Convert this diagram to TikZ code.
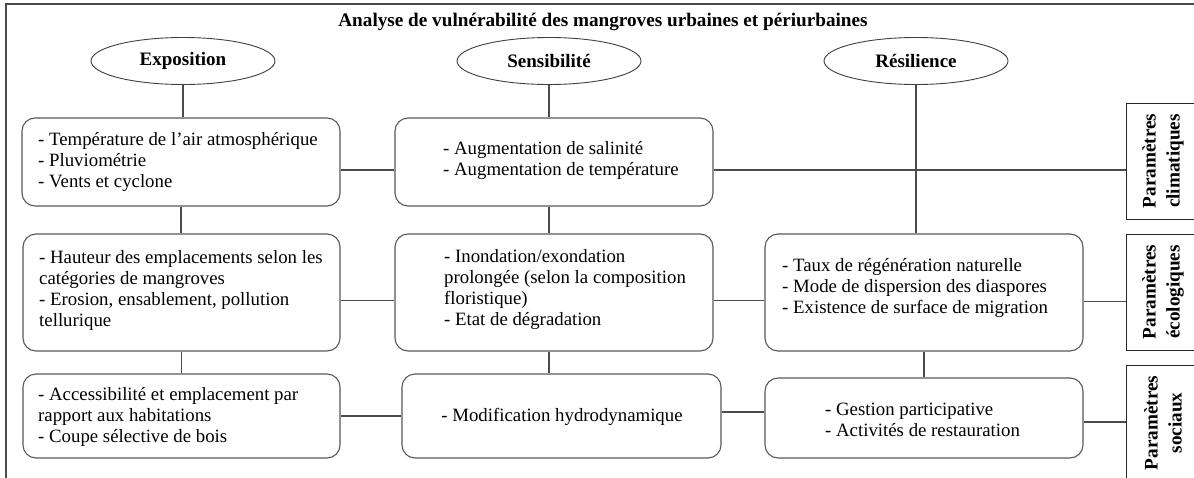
\documentclass[tikz,border=0pt]{standalone}
\usepackage{fontspec}
\setmainfont{Liberation Serif}
\usetikzlibrary{shapes.geometric}
\begin{document}
\begin{tikzpicture}[x=1pt,y=-1pt,
  frame/.style={draw=black!70, line width=1.3pt},
  rbox/.style={draw=black!65, line width=1.1pt, rounded corners=13pt, rectangle, inner sep=0pt, fill=white},
  txt/.style={align=left, inner sep=0pt, font=\fontsize{18.8}{21}\selectfont, anchor=west},
  ell/.style={ellipse, draw=black!75, line width=0.9pt, minimum width=184pt, minimum height=47pt, inner sep=0pt, font=\bfseries\fontsize{19}{22}\selectfont},
  pbox/.style={draw=black!85, line width=1pt, rectangle, inner sep=0pt, minimum width=74pt, minimum height=116pt},
  ptxt/.style={rotate=90, align=center, font=\bfseries\fontsize{19.2}{24}\selectfont, inner sep=0pt},
  conn/.style={draw=black!70, line width=1.1pt}
]
\useasboundingbox (0,0) rectangle (1194,477);
\clip (0,0) rectangle (1194,477);
\fill[white] (0,0) rectangle (1194,477);
\draw[frame] (6,4) rectangle (1230,520);

\node[font=\bfseries\fontsize{19.2}{22}\selectfont, inner sep=0pt] (T) at (603,22) {Analyse de vulnérabilité des mangroves urbaines et périurbaines};

% ellipses
\node[ell] (E) at (183,61) {Exposition};
\node[ell] (S) at (549,61) {Sensibilité};
\node[ell] (R) at (916,61) {Résilience};

% boxes
\node[rbox, minimum width=318pt, minimum height=88pt] (A1) at (181,162) {};
\node[rbox, minimum width=318pt, minimum height=88pt] (B1) at (554,162) {};
\node[rbox, minimum width=317pt, minimum height=117pt] (A2) at (181.5,292.5) {};
\node[rbox, minimum width=318pt, minimum height=117pt] (B2) at (554,292.5) {};
\node[rbox, minimum width=318pt, minimum height=117pt] (C2) at (924,292.5) {};
\node[rbox, minimum width=317pt, minimum height=84pt] (A3) at (181.5,416) {};
\node[rbox, minimum width=319pt, minimum height=84pt] (B3) at (561.5,416) {};
\node[rbox, minimum width=318pt, minimum height=80pt] (C3) at (924,418) {};

% parameter boxes
\node[pbox] (Pc) at (1163,161) {};
\node[pbox] (Pe) at (1163,292) {};
\node[pbox] (Ps) at (1163,423) {};
\node[ptxt] (Pct) at (Pc) {Paramètres\\climatiques};
\node[ptxt] (Pet) at (Pe) {Paramètres\\écologiques};
\node[ptxt] (Pst) at (Ps) {Paramètres\\sociaux};

% texts
\node[txt] (A1t) at (38,162) {- Température de l’air atmosphérique\\- Pluviométrie\\- Vents et cyclone};
\node[txt] (B1t) at (443,160.5) {- Augmentation de salinité\\- Augmentation de température};
\node[txt] (A2t) at (39,290) {- Hauteur des emplacements selon les\\catégories de mangroves\\- Erosion, ensablement, pollution\\tellurique};
\node[txt] (B2t) at (444,290) {- Inondation/exondation\\prolongée (selon la composition\\floristique)\\- Etat de dégradation};
\node[txt] (C2t) at (782,288) {- Taux de régénération naturelle\\- Mode de dispersion des diaspores\\- Existence de surface de migration};
\node[txt] (A3t) at (38,417) {- Accessibilité et emplacement par\\rapport aux habitations\\- Coupe sélective de bois};
\node[txt, anchor=center] (B3t) at (562,417) {- Modification hydrodynamique};
\node[txt] (C3t) at (825,419.5) {- Gestion participative\\- Activités de restauration};

% vertical connectors
\draw[conn] (E.south) -- (E.south |- A1.north);
\draw[conn] (A1.south) -- (A1.south |- A2.north);
\draw[conn] (A2.south) -- (A2.south |- A3.north);
\draw[conn] (S.south) -- (S.south |- B1.north);
\draw[conn] (S.south |- B1.south) -- (S.south |- B2.north);
\draw[conn] (S.south |- B2.south) -- (S.south |- B3.north);
\draw[conn] (R.south) -- (R.south |- C2.north);
\draw[conn] (C2.south) -- (C2.south |- C3.north);

% horizontal connectors
\draw[conn] ([yshift=-8pt]A1.east) -- ([yshift=-8pt]A1.east -| B1.west);
\draw[conn] ([yshift=-8pt]B1.east) -- ([yshift=-8pt]B1.east -| Pc.west);
\draw[conn] ([yshift=-8pt]A2.east) -- ([yshift=-8pt]A2.east -| B2.west);
\draw[conn] ([yshift=-8pt]B2.east) -- ([yshift=-8pt]B2.east -| C2.west);
\draw[conn] ([yshift=-9pt]C2.east) -- ([yshift=-9pt]C2.east -| Pe.west);
\draw[conn] (A3.east) -- (A3.east -| B3.west);
\draw[conn] ([yshift=4pt]B3.east) -- ([yshift=4pt]B3.east -| C3.west);
\draw[conn] ([yshift=-4pt]C3.east) -- ([yshift=-4pt]C3.east -| Ps.west);
\end{tikzpicture}
\end{document}
